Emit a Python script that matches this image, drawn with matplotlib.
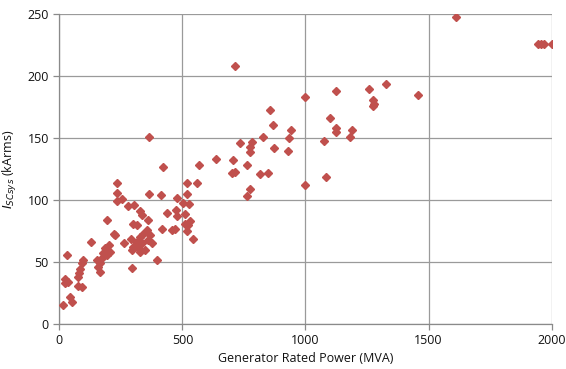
import matplotlib.pyplot as plt

# generator rating (MVA) vs system short-circuit current (kArms)
power_mva = [
    16, 45, 50, 23, 37, 23, 30, 77, 91, 77, 80, 84, 91, 98, 129, 152, 165, 159, 165,
    172, 179, 186, 193, 200, 206, 193, 224, 227, 261, 290, 294, 233, 233, 233, 254,
    278, 305, 328, 336, 301, 315, 359, 355, 341, 369, 328, 362, 315, 335, 376, 301,
    321, 348, 294, 328, 396, 365, 423, 365, 412, 437, 416, 457, 471, 474, 477, 477,
    504, 525, 511, 511, 524, 531, 518, 541, 520, 559, 520, 569, 636, 705, 701, 714,
    714, 735, 762, 762, 775, 776, 776, 782, 816, 846, 827, 854, 868, 874, 929, 933,
    943, 997, 997, 1075, 1083, 1099, 1124, 1124, 1124, 1181, 1190, 1256, 1276, 1279,
    1276, 1328, 1457, 1610, 1945, 1955, 1968, 2000,
]
isc_karms = [
    15, 22, 18, 36, 34, 33, 56, 31, 30, 38, 41, 44, 49, 52, 66, 52, 49, 46, 42,
    53, 57, 61, 56, 64, 58, 84, 73, 72, 65, 69, 45, 114, 106, 99, 101,
    95, 96, 91, 88, 81, 80, 84, 76, 73, 72, 70, 68, 66, 65, 65, 62,
    61, 60, 60, 58, 52, 151, 127, 105, 104, 90, 77, 76, 77, 92, 87, 102,
    98, 97, 89, 81, 80, 83, 75, 69, 114, 114, 105, 128, 133, 132, 122, 123,
    208, 146, 128, 103, 109, 139, 143, 147, 121, 122, 151, 173, 161, 142, 140, 150,
    157, 183, 112, 148, 119, 166, 188, 158, 155, 151, 157, 190, 181, 178,
    176, 194, 185, 248, 226, 226, 226, 226,
]

x_ticks = [0, 500, 1000, 1500, 2000]
y_ticks = [0, 50, 100, 150, 200, 250]

plt.rcParams['font.family'] = ['Open Sans', 'DejaVu Sans']
plt.rcParams['mathtext.fontset'] = 'dejavusans'

fig = plt.figure(figsize=(5.66, 3.69), dpi=100)
ax = fig.add_axes([0.1048, 0.122, 0.8699, 0.8392])

ax.plot(power_mva, isc_karms, linestyle='none', marker='D', markersize=4.0,
        color='#C0504D', markeredgecolor='#C0504D', zorder=3)

ax.set_xlim(0, 2000)
ax.set_ylim(0, 250)
ax.set_xticks(x_ticks)
ax.set_yticks(y_ticks)
ax.grid(True, color='#9a9a9a', linewidth=0.9)
ax.set_axisbelow(True)

for side in ['top', 'right']:
    ax.spines[side].set_visible(False)
for side in ['left', 'bottom']:
    ax.spines[side].set_color('#8a8a8a')
    ax.spines[side].set_linewidth(0.9)

ax.tick_params(length=4, width=0.9, color='#8a8a8a', labelsize=9, labelcolor='#111111')
ax.set_xlabel('Generator Rated Power (MVA)', fontsize=9, color='#111111', labelpad=3)
ax.set_ylabel(r'$I_{SCsys}$ (kArms)', fontsize=9, color='#111111', labelpad=6)

fig.savefig('out.png', dpi=100)
